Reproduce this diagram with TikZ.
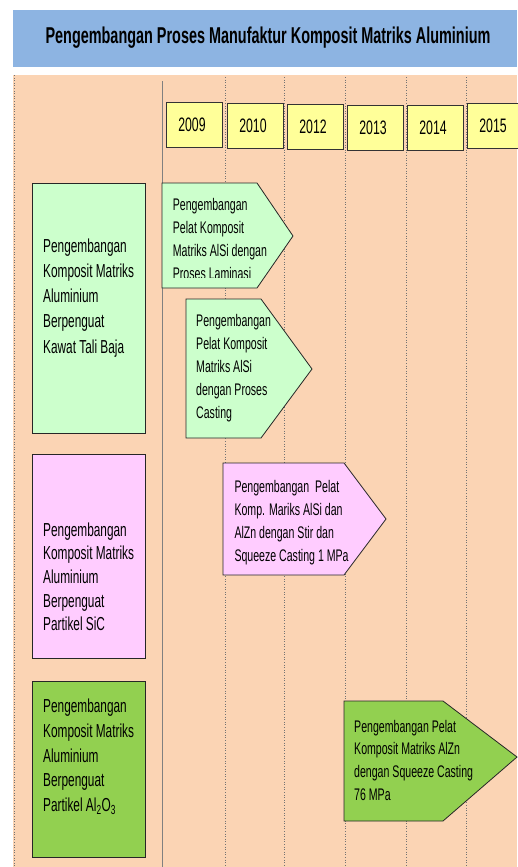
\documentclass[tikz,border=0pt]{standalone}
\usepackage{fontspec}
\setmainfont{Liberation Sans}[FakeStretch=0.63]
\definecolor{titleblue}{HTML}{8DB4E2}
\definecolor{peach}{HTML}{FBD4B4}
\definecolor{yearyellow}{HTML}{FFFF99}
\definecolor{lightgreen}{HTML}{CCFFCC}
\definecolor{lightpink}{HTML}{FFCCFF}
\definecolor{midgreen}{HTML}{92D050}
\tikzset{
  gridline/.style={draw=black!55, line width=0.6pt, dotted},
  solidline/.style={draw=black!50, line width=0.5pt},
  yearbox/.style={draw=black!80, line width=0.8pt, fill=yearyellow, minimum width=56pt, minimum height=45pt, inner sep=0pt, font=\fontsize{19.5}{22}\selectfont},
  sidebox/.style={draw=black!85, line width=0.8pt},
  arrowshape/.style={draw=black!85, line width=0.8pt},
  sidetext/.style={anchor=north west, inner sep=0pt, align=left},
  arrtext/.style={anchor=north west, inner sep=0pt, align=left, font=\fontsize{16.8}{22.8}\selectfont}
}
\begin{document}
\begin{tikzpicture}[x=1pt,y=-1pt]
\useasboundingbox (0,0) rectangle (517,867);
% title bar
\fill[titleblue] (13,10) rectangle (517,67);
\node[inner sep=0pt, font=\fontsize{22.9}{26}\selectfont\bfseries] (title) at (268,38) {Pengembangan Proses Manufaktur Komposit Matriks Aluminium};
% background
\fill[peach] (13,75) rectangle (517,867);
\draw[gridline] (14,75) -- (14,867);
\draw[solidline] (162,81) -- (162,867);
\foreach \x in {225,284,345,406,466} { \draw[gridline] (\x,77) -- (\x,867); }
% years
\node[yearbox] (y2009) at (194,125) {\hspace*{-4pt}2009};
\node[yearbox] (y2010) at (255,126) {\hspace*{-4pt}2010};
\node[yearbox] (y2012) at (315,126.5) {\hspace*{-4pt}2012};
\node[yearbox] (y2013) at (375,128) {\hspace*{-4pt}2013};
\node[yearbox] (y2014) at (435,128) {\hspace*{-4pt}2014};
\node[yearbox] (y2015) at (495,126) {\hspace*{-4pt}2015};
% side boxes
\filldraw[sidebox, fill=lightgreen] (32,183) rectangle (145,433);
\node[sidetext, font=\fontsize{18.8}{25.3}\selectfont] (s1) at (43,238.2) {Pengembangan\\Komposit Matriks\\Aluminium\\Berpenguat\\Kawat Tali Baja};
\filldraw[sidebox, fill=lightpink] (32,454) rectangle (145,658);
\node[sidetext, font=\fontsize{18.8}{23.6}\selectfont] (s2) at (43,522.5) {Pengembangan\\Komposit Matriks\\Aluminium\\Berpenguat\\Partikel SiC};
\filldraw[sidebox, fill=midgreen] (32,681) rectangle (145,857);
\node[sidetext, font=\fontsize{18.8}{24.6}\selectfont] (s3) at (43,699) {Pengembangan\\Komposit Matriks\\Aluminium\\Berpenguat\\Partikel Al\textsubscript{2}O\textsubscript{3}};
% arrows
\filldraw[arrowshape, fill=lightgreen] (162,183) -- (257,183) -- (293,236) -- (257,288) -- (162,288) -- cycle;
\begin{scope}
\clip (162,183) rectangle (293,277);
\node[arrtext] (a1) at (172.7,198.5) {Pengembangan\\Pelat Komposit\\Matriks AlSi dengan\\Proses Laminasi};
\end{scope}
\filldraw[arrowshape, fill=lightgreen] (186,299) -- (261,299) -- (312,369) -- (261,438) -- (186,438) -- cycle;
\node[arrtext] (a2) at (196,314.5) {Pengembangan\\Pelat Komposit\\Matriks AlSi\\dengan Proses\\Casting};
\filldraw[arrowshape, fill=lightpink] (223,463) -- (344,463) -- (386,519) -- (344,575) -- (223,575) -- cycle;
\node[arrtext] (a3) at (234.3,480.5) {Pengembangan~ Pelat\\Komp. Mariks AlSi dan\\AlZn dengan Stir dan\\Squeeze Casting 1 MPa};
\filldraw[arrowshape, fill=midgreen] (344,701) -- (443,701) -- (517,757) -- (443,821) -- (344,821) -- cycle;
\node[arrtext] (a4) at (354,719.7) {Pengembangan Pelat\\Komposit Matriks AlZn\\dengan Squeeze Casting\\76 MPa};
\end{tikzpicture}
\end{document}
